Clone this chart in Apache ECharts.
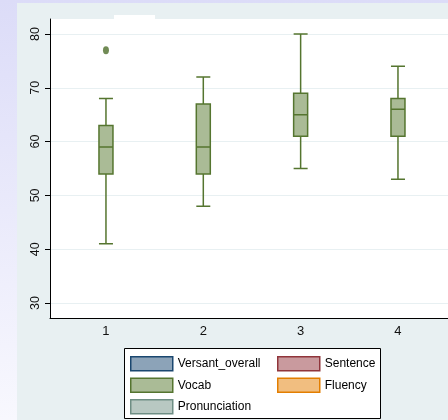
<!DOCTYPE html>
<html>
<head>
<meta charset="utf-8">
<script src="https://cdn.jsdelivr.net/npm/echarts@6/dist/echarts.min.js"></script>
<style>
html,body{margin:0;padding:0;}
body{width:448px;height:420px;background:linear-gradient(180deg,#dcdcf8 0%,#eaeafb 50%,#f8f8fe 100%);}
#c{width:448px;height:420px;}
</style>
</head>
<body>
<div id="c"></div>
<script>
// Data
var groups = [1, 2, 3, 4];
var vocabMin = [41, 48, 55, 53];
var vocabQ1 = [54, 54, 61, 61];
var vocabMedian = [59, 59, 65, 66];
var vocabQ3 = [63, 67, 69, 68];
var vocabMax = [68, 72, 80, 74];
var outlierGroup = [1];
var outlierValue = [77];
var yTicks = [30, 40, 50, 60, 70, 80];
var xTicks = [1, 2, 3, 4];
var seriesNames = ['Versant_overall', 'Sentence', 'Vocab', 'Fluency', 'Pronunciation'];

var colors = {
  Versant_overall: {fill: '#8ca3b8', line: '#1a476f'},
  Sentence: {fill: '#c99a9e', line: '#90353b'},
  Vocab: {fill: '#aabb96', line: '#55752f'},
  Fluency: {fill: '#f1be80', line: '#e37e00'},
  Pronunciation: {fill: '#b8c8c2', line: '#6e8e84'}
};

var vocabData = groups.map(function (g, i) {
  return [g, vocabMin[i], vocabQ1[i], vocabMedian[i], vocabQ3[i], vocabMax[i]];
});
var outlierData = outlierGroup.map(function (g, i) { return [g, outlierValue[i]]; });

var series = seriesNames.map(function (n) {
  return {
    name: n,
    type: 'boxplot',
    boxWidth: [14, 14],
    itemStyle: {color: colors[n].fill, borderColor: colors[n].line, borderWidth: 1.5},
    emphasis: {disabled: true},
    data: n === 'Vocab' ? vocabData : []
  };
});
series.push({
  name: 'VocabOutliers',
  type: 'scatter',
  symbol: 'circle',
  symbolSize: [6, 8],
  itemStyle: {color: '#4e6e2a'},
  data: outlierData,
  z: 5
});

function legendItems(names) {
  return names.map(function (n) {
    return {name: n, itemStyle: {color: colors[n].fill, borderColor: colors[n].line, borderWidth: 1.5}};
  });
}

var font = 'Liberation Sans, Arial, sans-serif';
var legendCommon = {
  orient: 'vertical',
  icon: 'rect',
  itemWidth: 42,
  itemHeight: 14,
  itemGap: 6,
  padding: 0,
  selectedMode: false,
  textStyle: {fontFamily: font, fontSize: 12, color: '#000'}
};

var chart = echarts.init(document.getElementById('c'), null, {renderer: 'canvas'});
chart.setOption({
  animation: false,
  backgroundColor: 'transparent',
  graphic: [
    {type: 'rect', shape: {x: 17, y: 3, width: 431, height: 417}, style: {fill: '#e8f0f2'}, z: -10, silent: true},
    {type: 'rect', shape: {x: 114, y: 15, width: 41, height: 5}, style: {fill: '#ffffff'}, z: -5, silent: true},
    {type: 'rect', shape: {x: 124.5, y: 348.5, width: 256, height: 70}, style: {fill: '#ffffff', stroke: '#000', lineWidth: 1}, z: 1, silent: true}
  ],
  legend: [
    Object.assign({}, legendCommon, {left: 130, top: 356, data: legendItems(['Versant_overall', 'Vocab', 'Pronunciation'])}),
    Object.assign({}, legendCommon, {left: 277, top: 356, data: legendItems(['Sentence', 'Fluency'])})
  ],
  grid: {left: 50, top: 19, right: 0, bottom: 102, show: true, backgroundColor: '#ffffff', borderWidth: 0},
  xAxis: {
    type: 'value',
    min: 0.425,
    max: 4.514,
    axisLine: {show: true, onZero: false, lineStyle: {color: '#000', width: 1}},
    axisTick: {show: false},
    splitLine: {show: false},
    axisLabel: {customValues: xTicks, margin: 7, fontFamily: font, fontSize: 13, color: '#111'}
  },
  yAxis: {
    type: 'value',
    min: 27.21,
    max: 82.79,
    axisLine: {show: true, lineStyle: {color: '#000', width: 1}},
    axisTick: {show: true, length: 5, customValues: yTicks, lineStyle: {color: '#000'}},
    splitLine: {show: true, lineStyle: {color: '#e8f0f2', width: 1}},
    axisLabel: {customValues: yTicks, rotate: 90, margin: 8, fontFamily: font, fontSize: 12.5, color: '#111'}
  },
  series: series
});
</script>
</body>
</html>
